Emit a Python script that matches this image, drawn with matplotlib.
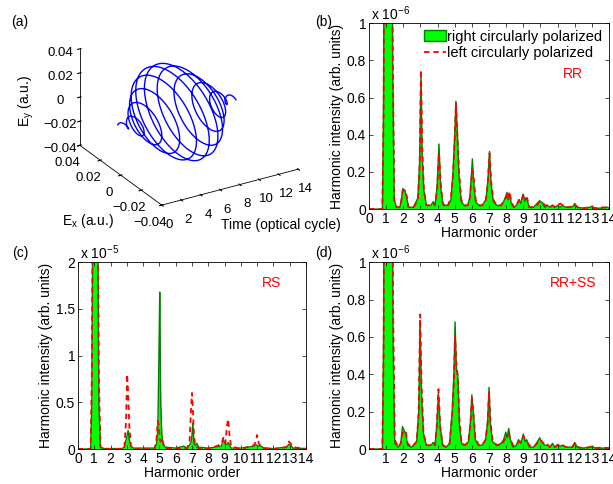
import numpy as np
import matplotlib
matplotlib.use("Agg")
import matplotlib.pyplot as plt
from matplotlib.patches import Patch
from matplotlib.lines import Line2D

plt.rcParams['font.family'] = ['Liberation Sans', 'DejaVu Sans']
plt.rcParams['mathtext.default'] = 'regular'
plt.rcParams['font.size'] = 10

# (a) driving field: envelope read every half cycle, carrier one turn per optical cycle
env_t = [0, 0.5, 1, 1.5, 2, 2.5, 3, 3.5, 4, 4.5, 5, 5.5, 5.75, 6, 6.5, 7, 7.5, 8,
         8.5, 9, 9.5, 10, 10.5, 11, 11.5]
env_amp = [0.003, 0.002, 0.004, 0.008, 0.012, 0.016, 0.020, 0.024, 0.028, 0.031,
           0.033, 0.034, 0.034, 0.034, 0.033, 0.031, 0.028, 0.024, 0.020, 0.016,
           0.012, 0.008, 0.004, 0.002, 0.003]

# (b) RR, units of 1e-6
b_order = [0, 0.78, 0.85, 0.92, 1.3, 1.38, 1.47, 1.6, 1.8, 1.9, 1.97, 2.1, 2.2, 2.3,
           2.6, 2.85, 2.95, 3.03, 3.1, 3.2, 3.35, 3.6, 3.75, 3.85, 3.97, 4.08, 4.18,
           4.3, 4.45, 4.6, 4.78, 4.9, 5.0, 5.07, 5.15, 5.25, 5.38, 5.55, 5.75, 5.88,
           5.97, 6.03, 6.1, 6.22, 6.4, 6.6, 6.82, 6.93, 7.03, 7.12, 7.25, 7.45, 7.7,
           7.85, 7.98, 8.05, 8.12, 8.2, 8.3, 8.45, 8.6, 8.75, 8.85, 8.95, 9.0, 9.08,
           9.15, 9.22, 9.35, 9.6, 9.8, 9.95, 10.1, 10.25, 10.4, 10.55, 10.7, 10.85,
           11.0, 11.15, 11.3, 11.45, 11.7, 11.9, 12.0, 12.15, 12.5, 12.9, 13.0, 13.15,
           13.5, 13.9, 14.0]
b_right = [0, 0, 0.6, 3, 3, 0.8, 0.05, 0.01, 0.01, 0.06, 0.11, 0.10, 0.06, 0.01,
           0.01, 0.06, 0.25, 0.72, 0.30, 0.10, 0.02, 0.02, 0.04, 0.02, 0.12, 0.35, 0.12,
           0.03, 0.02, 0.02, 0.05, 0.20, 0.40, 0.58, 0.42, 0.18, 0.04, 0.02, 0.02, 0.06,
           0.18, 0.27, 0.15, 0.04, 0.02, 0.02, 0.05, 0.15, 0.31, 0.14, 0.04, 0.02, 0.02,
           0.04, 0.07, 0.09, 0.05, 0.08, 0.03, 0.01, 0.02, 0.05, 0.03, 0.07, 0.08, 0.04,
           0.06, 0.05, 0.01, 0.01, 0.03, 0.045, 0.035, 0.01, 0.02, 0.01, 0.02, 0.01,
           0.02, 0.01, 0.02, 0.01, 0.01, 0.015, 0.03, 0.01, 0.005, 0.01, 0.015, 0.005,
           0.005, 0.01, 0.005]
b_left = [0, 0, 0.5, 3, 3, 0.9, 0.05, 0.01, 0.01, 0.05, 0.10, 0.10, 0.07, 0.01,
          0.01, 0.05, 0.22, 0.75, 0.35, 0.10, 0.02, 0.02, 0.03, 0.02, 0.10, 0.30, 0.14,
          0.03, 0.01, 0.02, 0.06, 0.18, 0.38, 0.57, 0.40, 0.20, 0.05, 0.02, 0.02, 0.06,
          0.16, 0.21, 0.17, 0.05, 0.02, 0.02, 0.05, 0.14, 0.30, 0.15, 0.05, 0.02, 0.02,
          0.04, 0.06, 0.08, 0.06, 0.095, 0.04, 0.01, 0.02, 0.05, 0.04, 0.06, 0.07, 0.05,
          0.05, 0.06, 0.01, 0.01, 0.02, 0.04, 0.04, 0.02, 0.02, 0.01, 0.02, 0.01,
          0.02, 0.03, 0.02, 0.01, 0.01, 0.015, 0.025, 0.01, 0.005, 0.01, 0.012, 0.005,
          0.008, 0.01, 0.005]

# (c) RS, units of 1e-5
c_order = [0, 0.78, 0.85, 0.92, 1.2, 1.28, 1.38, 1.6, 2.7, 2.85, 2.95, 3.02, 3.08,
           3.15, 3.25, 3.4, 4.7, 4.82, 4.9, 4.97, 5.02, 5.08, 5.15, 5.22, 5.35, 6.0,
           6.5, 6.7, 6.85, 6.95, 7.0, 7.05, 7.12, 7.2, 7.3, 7.4, 8.0, 8.8, 8.93, 9.05,
           9.15, 9.22, 9.3, 9.4, 10.0, 10.8, 10.92, 11.0, 11.1, 11.22, 11.4, 12.0,
           12.8, 12.95, 13.05, 13.2, 14.0]
c_right = [0, 0, 0.5, 3, 3, 0.5, 0.02, 0.005, 0.005, 0.02, 0.1, 0.15, 0.2, 0.1,
           0.03, 0.01, 0.01, 0.05, 0.2, 1.0, 1.68, 0.5, 0.15, 0.06, 0.02, 0.01, 0.03,
           0.01, 0.04, 0.08, 0.15, 0.28, 0.06, 0.04, 0.06, 0.02, 0.01, 0.03, 0.1, 0.05,
           0.05, 0.07, 0.04, 0.01, 0.01, 0.03, 0.045, 0.04, 0.03, 0.035, 0.01, 0.005,
           0.02, 0.05, 0.04, 0.01, 0.005]
c_left = [0, 0, 0.8, 3, 3, 0.8, 0.02, 0, 0, 0.02, 0.3, 0.8, 0.6, 0.25, 0.03, 0, 0,
          0.1, 0.3, 0.25, 0.1, 0.08, 0.12, 0.06, 0.01, 0, 0.01, 0.01, 0.08, 0.45, 0.6,
          0.45, 0.15, 0.03, 0.02, 0.01, 0, 0.05, 0.12, 0.06, 0.25, 0.32, 0.15, 0.03, 0,
          0.04, 0.08, 0.15, 0.06, 0.03, 0.01, 0, 0.02, 0.08, 0.06, 0.02, 0]

# (d) RR+SS, units of 1e-6
d_order = [0, 0.78, 0.85, 0.92, 1.3, 1.4, 1.5, 1.7, 1.85, 1.95, 2.05, 2.15, 2.25,
           2.5, 2.78, 2.9, 2.98, 3.06, 3.18, 3.35, 3.6, 3.75, 3.85, 3.95, 4.05, 4.15,
           4.3, 4.5, 4.7, 4.85, 4.95, 5.02, 5.1, 5.18, 5.28, 5.4, 5.6, 5.8, 5.92, 6.0,
           6.08, 6.2, 6.4, 6.6, 6.8, 6.92, 7.0, 7.08, 7.2, 7.45, 7.7, 7.85, 7.98, 8.05,
           8.15, 8.25, 8.4, 8.6, 8.72, 8.85, 8.95, 9.0, 9.1, 9.2, 9.35, 9.6, 9.8, 9.95,
           10.1, 10.25, 10.4, 10.55, 10.7, 10.85, 11.0, 11.15, 11.3, 11.5, 11.85, 12.0,
           12.15, 12.5, 12.9, 13.0, 13.2, 13.6, 14.0]
d_right = [0, 0, 0.6, 3, 3, 0.6, 0.03, 0.01, 0.03, 0.12, 0.10, 0.08, 0.02, 0.01,
           0.04, 0.2, 0.68, 0.3, 0.08, 0.02, 0.02, 0.035, 0.02, 0.12, 0.30, 0.12, 0.02,
           0.01, 0.03, 0.2, 0.4, 0.68, 0.42, 0.40, 0.12, 0.03, 0.02, 0.04, 0.15, 0.29,
           0.2, 0.05, 0.02, 0.02, 0.05, 0.15, 0.33, 0.14, 0.04, 0.02, 0.03, 0.05, 0.09,
           0.06, 0.11, 0.05, 0.01, 0.02, 0.05, 0.03, 0.06, 0.08, 0.04, 0.05, 0.01, 0.01,
           0.035, 0.06, 0.035, 0.02, 0.02, 0.01, 0.03, 0.01, 0.025, 0.015, 0.02, 0.01,
           0.01, 0.035, 0.01, 0.005, 0.01, 0.015, 0.005, 0.005, 0.005]
d_left = [0, 0, 0.5, 3, 3, 0.8, 0.05, 0.01, 0.03, 0.08, 0.10, 0.09, 0.03, 0.01,
          0.04, 0.2, 0.72, 0.35, 0.08, 0.02, 0.02, 0.03, 0.02, 0.12, 0.32, 0.12, 0.02,
          0.01, 0.03, 0.18, 0.35, 0.6, 0.45, 0.38, 0.15, 0.03, 0.02, 0.04, 0.14, 0.27,
          0.2, 0.06, 0.02, 0.02, 0.05, 0.14, 0.30, 0.15, 0.05, 0.02, 0.02, 0.04, 0.06,
          0.07, 0.08, 0.05, 0.02, 0.02, 0.04, 0.04, 0.05, 0.07, 0.05, 0.04, 0.02, 0.01,
          0.03, 0.05, 0.04, 0.02, 0.025, 0.01, 0.02, 0.01, 0.02, 0.025, 0.02, 0.01,
          0.01, 0.03, 0.01, 0.005, 0.01, 0.012, 0.005, 0.008, 0.005]

GREEN = '#00ff00'
DARKGREEN = '#007f00'


def spectrum(ax, x, right, left, ymax, yticks, expo, tag, xticks):
    ax.fill_between(x, right, color=GREEN, lw=0)
    ax.plot(x, right, color=DARKGREEN, lw=1)
    ax.plot(x, left, color='red', ls='--', dashes=(3, 2.2), lw=1.3)
    ax.set_xlim(0, 14)
    ax.set_ylim(0, ymax)
    ax.set_xticks(xticks)
    ax.set_yticks(yticks)
    ax.set_yticklabels([f'{v:g}' for v in yticks])
    ax.tick_params(direction='in', top=True, right=True, length=3, width=0.5, pad=2)
    for s in ax.spines.values():
        s.set_linewidth(0.6)
    ax.set_xlabel('Harmonic order', labelpad=0)
    ax.set_ylabel('Harmonic intensity (arb. units)', labelpad=2)
    ax.text(0.01, 1.0, r'x $10^{%d}$' % expo, transform=ax.transAxes,
            ha='left', va='bottom')
    ax.text(0.85, 0.89 if tag != 'RR' else 0.726, tag, transform=ax.transAxes,
            color='red', ha='center', va='center')


fig = plt.figure(figsize=(6.13, 4.84), dpi=100)

# panel (a)
ax3 = fig.add_axes([0.023, 0.518, 0.56, 0.5], projection='3d', proj_type='ortho')
t = np.linspace(0, 11.5, 2300)
amp = np.interp(t, env_t, env_amp)
ax3.plot(t, amp * np.cos(2 * np.pi * t), amp * np.sin(2 * np.pi * t), color='blue', lw=1)
ax3.view_init(elev=26, azim=-121)
ax3.set_box_aspect((4, 4, 2.7))
ax3.set_xlim(0, 14)
ax3.set_ylim(-0.04, 0.04)
ax3.set_zlim(-0.04, 0.04)
ax3.set_xticks(range(0, 15, 2))
ax3.set_yticks([-0.04, -0.02, 0, 0.02, 0.04])
ax3.set_zticks([-0.04, -0.02, 0, 0.02, 0.04])
ax3.set_yticklabels(['\u22120.04', '\u22120.02', '0', '0.02', '0.04'])
ax3.set_zticklabels(['\u22120.04', '\u22120.02', '0', '0.02', '0.04'])
ax3.grid(False)
for a in (ax3.xaxis, ax3.yaxis, ax3.zaxis):
    a.set_pane_color((1, 1, 1, 0))
    a.line.set_color('k')
    a.line.set_linewidth(0.6)
ax3.tick_params(labelsize=9.5, pad=0)
fig.text(26 / 613, 1 - 101 / 484, r'E$_y$ (a.u.)', rotation=90, ha='center', va='center')
fig.text(88 / 613, 1 - 221 / 484, r'E$_x$ (a.u.)', ha='center', va='center')
fig.text(281 / 613, 1 - 225 / 484, 'Time (optical cycle)', ha='center', va='center')

# panels (b), (c), (d)
axb = fig.add_axes([0.602, 0.568, 0.3915, 0.384])
spectrum(axb, b_order, b_right, b_left, 1, [0, 0.2, 0.4, 0.6, 0.8, 1], -6, 'RR', range(0, 15))
axb.legend(handles=[Patch(facecolor=GREEN, edgecolor=DARKGREEN, lw=1),
                    Line2D([], [], color='red', ls='--', dashes=(3, 2.2), lw=1.3)],
           labels=['right circularly polarized', 'left circularly polarized'],
           loc='upper right', frameon=False, fontsize=10.5, handlelength=1.5,
           handleheight=0.8, handletextpad=0.1, borderaxespad=0.05, labelspacing=0.15)

axc = fig.add_axes([0.1272, 0.0723, 0.372, 0.386])
spectrum(axc, c_order, c_right, c_left, 2, [0, 0.5, 1, 1.5, 2], -5, 'RS', range(0, 15))

axd = fig.add_axes([0.602, 0.0723, 0.3915, 0.386])
spectrum(axd, d_order, d_right, d_left, 1, [0, 0.2, 0.4, 0.6, 0.8, 1], -6, 'RR+SS', range(1, 15))

for lab, x, y in [('(a)', 20, 22), ('(b)', 324, 22), ('(c)', 20, 253), ('(d)', 324, 253)]:
    fig.text(x / 613, 1 - y / 484, lab, ha='center', va='center')

fig.savefig('out.png', dpi=100)
